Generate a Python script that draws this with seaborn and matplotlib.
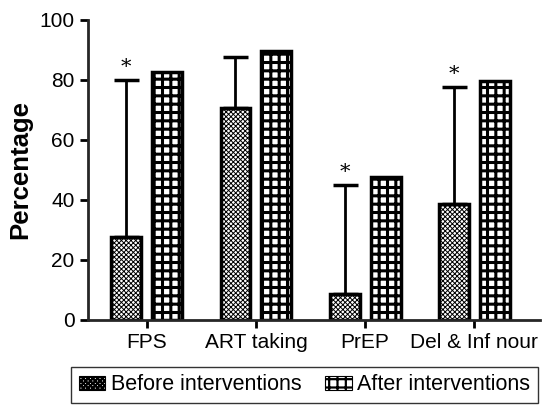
import numpy as np
import pandas as pd
import matplotlib
matplotlib.use("Agg")
import matplotlib.pyplot as plt
import seaborn as sns

categories = ['FPS', 'ART taking', 'PrEP', 'Del & Inf nour']
groups = ['Before interventions', 'After interventions']
before = [27.5, 70.5, 8.5, 38.5]
after = [82.5, 89.5, 47.5, 79.5]
before_err = [52.5, 17.0, 36.5, 39.0]
star = [True, False, True, True]

sns.set_style('ticks')
plt.rcParams['font.family'] = ['Liberation Sans', 'DejaVu Sans']
plt.rcParams['text.color'] = 'black'
plt.rcParams['xtick.color'] = 'black'
plt.rcParams['ytick.color'] = 'black'
plt.rcParams['axes.labelcolor'] = 'black'
plt.rcParams['hatch.linewidth'] = 1.6

df = pd.DataFrame({
    'cat': categories * 2,
    'grp': [groups[0]] * 4 + [groups[1]] * 4,
    'val': before + after,
})

fig = plt.figure(figsize=(5.42, 4.05), dpi=100)
ax = fig.add_axes([0.162, 0.21, 0.834, 0.741])

sns.barplot(data=df, x='cat', y='val', hue='grp', order=categories, hue_order=groups,
            palette=['white', 'white'], width=0.75, gap=0.27, edgecolor='black',
            linewidth=2.5, errorbar=None, legend=False, ax=ax)

hatches = ['xxxxxxx', '++']
hlw = [0.7, 2.2]
for i, cont in enumerate(ax.containers):
    for p in cont:
        p.set_hatch(hatches[i])
        if hasattr(p, 'set_hatch_linewidth'):
            p.set_hatch_linewidth(hlw[i])

# upper error bars for the "before" bars
xs = [p.get_x() + p.get_width() / 2 for p in ax.containers[0]]
ax.errorbar(xs, before, yerr=[np.zeros(4), before_err], fmt='none', ecolor='black',
            elinewidth=2, capsize=9, capthick=2.5)
for x, b, e, s in zip(xs, before, before_err, star):
    if s:
        ax.text(x, b + e + 1, '*', ha='center', va='bottom', fontsize=15,
                family='DejaVu Serif')

ax.set_xlim(-0.54, 3.6)
ax.set_ylim(0, 100)
ax.set_yticks([0, 20, 40, 60, 80, 100])
ax.set_xlabel('')
ax.set_ylabel('Percentage', fontsize=18.5, fontweight='bold', labelpad=5)
ax.tick_params(axis='both', labelsize=15, width=2, length=6)
for side in ['left', 'bottom']:
    ax.spines[side].set_linewidth(2)
sns.despine(ax=ax)

handles = [ax.containers[0][0], ax.containers[1][0]]
leg = fig.legend(handles, groups, loc='lower right', bbox_to_anchor=(538 / 542, 2 / 405),
                 ncol=2, frameon=True, fancybox=False, edgecolor='black', fontsize=15.5,
                 handlelength=1.25, handleheight=0.6, columnspacing=1.1,
                 handletextpad=0.25, borderpad=0.35, borderaxespad=0)
leg.get_frame().set_linewidth(1.0)
for h, hp in zip(leg.legend_handles, hatches):
    h.set_hatch(hp)
    h.set_edgecolor('black')
    h.set_linewidth(0.8)

fig.savefig('out.png', dpi=100)
